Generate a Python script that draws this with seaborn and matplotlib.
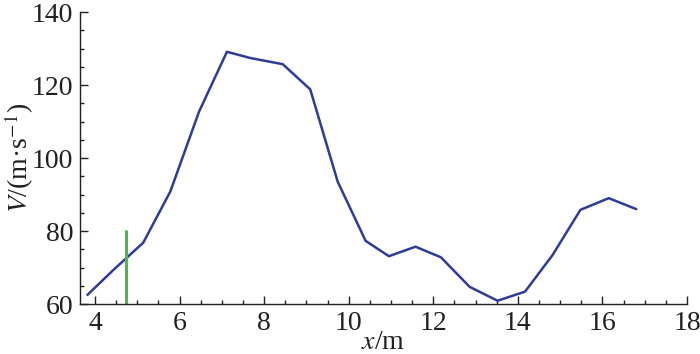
import numpy as np
import pandas as pd
import matplotlib
matplotlib.use("Agg")
import matplotlib.pyplot as plt
import seaborn as sns
from matplotlib.ticker import MultipleLocator

# datos
pos_x = [3.82, 4.45, 5.14, 5.78, 6.46, 7.12, 7.67, 8.44, 9.09, 9.74, 10.40,
         10.95, 11.58, 12.18, 12.86, 13.52, 14.17, 14.82, 15.48, 16.15, 16.80]
vel = [62.5, 69.5, 76.8, 90.8, 112.7, 129.1, 127.4, 125.7, 118.8, 93.5, 77.3,
       73.1, 75.7, 72.8, 64.7, 60.9, 63.4, 73.4, 85.8, 89.0, 86.0]
marca_x = [4.73, 4.73]
marca_y = [60, 80]

df = pd.DataFrame({"x": pos_x, "V": vel})

sns.set_style("ticks")
plt.rcParams["font.family"] = ["Liberation Serif", "DejaVu Serif"]
plt.rcParams["mathtext.fontset"] = "stix"

fig = plt.figure(figsize=(7, 3.54), dpi=100)
ax = fig.add_axes([0.1143, 0.1412, 0.8671, 0.8249])

sns.lineplot(data=df, x="x", y="V", ax=ax, color="#2e3b98", linewidth=1.8)
ax.plot(marca_x, marca_y, color="#4cb848", linewidth=2.2)

ax.set_xlim(3.645, 18)
ax.set_ylim(60, 140)
ax.xaxis.set_major_locator(MultipleLocator(2))
ax.xaxis.set_minor_locator(MultipleLocator(0.5))
ax.yaxis.set_major_locator(MultipleLocator(20))
ax.yaxis.set_minor_locator(MultipleLocator(5))
ax.tick_params(which="both", direction="in", labelsize=20, colors="#231f20",
               width=1.0)
ax.tick_params(which="major", length=6, pad=5)
ax.tick_params(which="minor", length=3)

sns.despine(ax=ax)
for s in ["left", "bottom"]:
    ax.spines[s].set_linewidth(1.0)
    ax.spines[s].set_color("#231f20")

ax.set_xlabel(r"$\it{x}$/m", fontsize=20, labelpad=-4, color="#231f20")
ax.set_ylabel(r"$\it{V}$/(m·s$^{-1}$)", fontsize=20, labelpad=-3, color="#231f20")

fig.savefig("out.png", dpi=100)
